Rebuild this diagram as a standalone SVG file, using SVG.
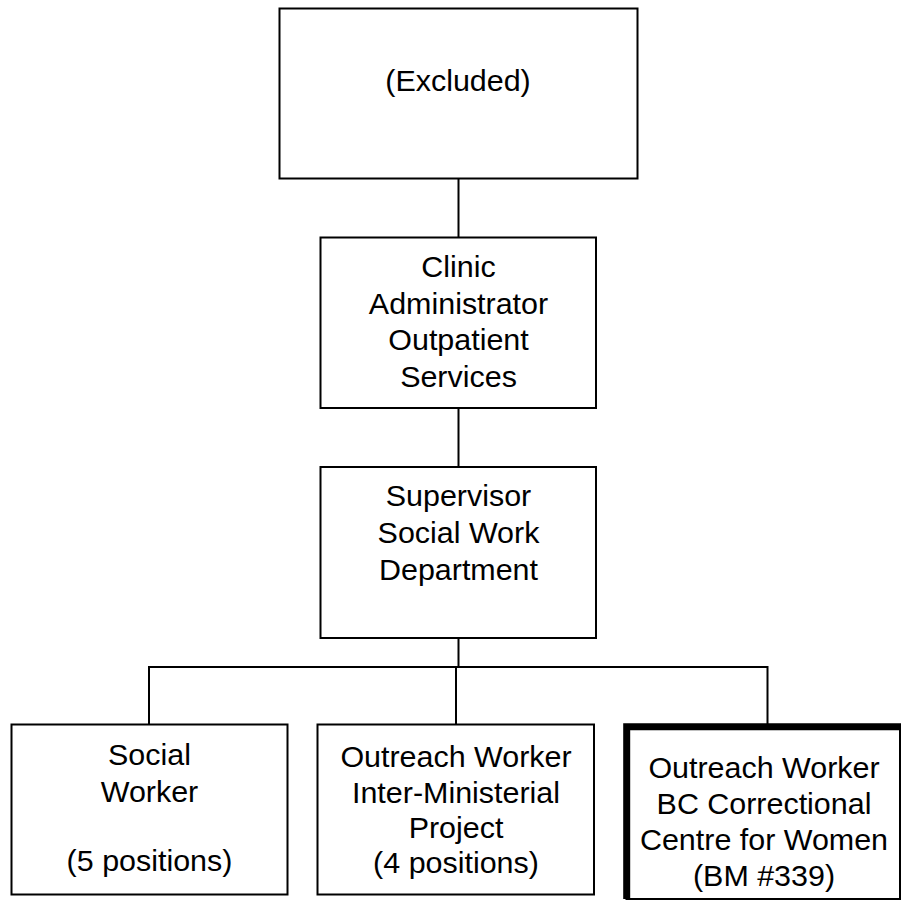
<svg xmlns="http://www.w3.org/2000/svg" width="902" height="901" viewBox="0 0 902 901">
<style>
.box{fill:#fff;stroke:#000;stroke-width:2}
.thick{fill:none;stroke:#000;stroke-width:7}
.con{fill:none;stroke:#000;stroke-width:2}
text{font-family:"Liberation Sans",Arial,sans-serif;font-size:29px;text-anchor:middle;fill:#000}
</style>
<rect width="902" height="901" fill="#fff"/>
<g id="connectors">
<path class="con" d="M458.5 178V237"/>
<path class="con" d="M458.5 408V467"/>
<path class="con" d="M458.5 638V667"/>
<path class="con" d="M149 724V667H767.5V724"/>
<path class="con" d="M456 667V724"/>
</g>
<g id="excluded">
<rect class="box" x="279.5" y="8.5" width="358" height="170"/>
<g transform="translate(458 0) scale(1.05 1)"><text x="0" y="91">(Excluded)</text></g>
</g>
<g id="clinic-administrator">
<rect class="box" x="320.5" y="237.5" width="275.5" height="170.5"/>
<g transform="translate(458.5 0) scale(1.05 1)">
<text x="0" y="277">Clinic</text>
<text x="0" y="314">Administrator</text>
<text x="0" y="350.5">Outpatient</text>
<text x="0" y="387.5">Services</text>
</g>
</g>
<g id="supervisor">
<rect class="box" x="320.5" y="467" width="275.5" height="171"/>
<g transform="translate(458.5 0) scale(1.05 1)">
<text x="0" y="506">Supervisor</text>
<text x="0" y="543.5">Social Work</text>
<text x="0" y="580.5">Department</text>
</g>
</g>
<g id="social-worker">
<rect class="box" x="11.5" y="724.5" width="276" height="170"/>
<g transform="translate(149.5 0) scale(1.05 1)">
<text x="0" y="765.5">Social</text>
<text x="0" y="802">Worker</text>
<text x="0" y="871">(5 positions)</text>
</g>
</g>
<g id="outreach-imp">
<rect class="box" x="317.5" y="724.5" width="276.5" height="170"/>
<g transform="translate(456 0) scale(1.05 1)">
<text x="0" y="767">Outreach Worker</text>
<text x="0" y="803">Inter-Ministerial</text>
<text x="0" y="838.5">Project</text>
<text x="0" y="873">(4 positions)</text>
</g>
</g>
<g id="outreach-bccw">
<rect class="box" x="626.5" y="726.5" width="273.5" height="172.5"/>
<path class="thick" d="M626.7 899V726.7H901"/>
<g transform="translate(764 0) scale(1.05 1)">
<text x="0" y="778">Outreach Worker</text>
<text x="0" y="814.5">BC Correctional</text>
<text x="0" y="850.5">Centre for Women</text>
<text x="0" y="886">(BM #339)</text>
</g>
</g>
</svg>
